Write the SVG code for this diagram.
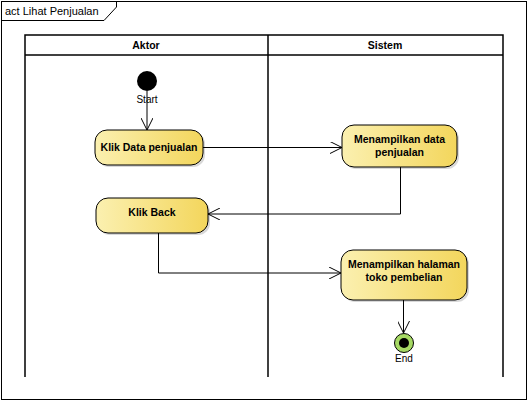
<svg xmlns="http://www.w3.org/2000/svg" width="529" height="402" viewBox="0 0 529 402">
<defs>
<linearGradient id="g" x1="0" y1="0" x2="1" y2="0">
<stop offset="0" stop-color="#fbf0b0"/>
<stop offset="1" stop-color="#f3d65c"/>
</linearGradient>
<marker id="arr" markerWidth="14" markerHeight="12" refX="12" refY="6" orient="auto" markerUnits="userSpaceOnUse">
<path d="M0,0 L12,6 L0,12" fill="none" stroke="#000" stroke-width="1"/>
</marker>
</defs>
<style>
.frame{fill:#fff;stroke:#000;stroke-width:1}
.lane{fill:none;stroke:#000;stroke-width:1.5}
.act{fill:url(#g);stroke:#000;stroke-width:1}
.sh{fill:#c8c8c8;opacity:0.7}
.t{font-family:"Liberation Sans",Arial,sans-serif;font-size:10.5px;font-weight:bold;text-anchor:middle;fill:#000}
.n{font-family:"Liberation Sans",Arial,sans-serif;font-size:11px;fill:#000}
.c{fill:none;stroke:#000;stroke-width:1}
</style>
<rect x="0" y="0" width="529" height="402" fill="#fff"/>
<g id="frame">
<rect class="frame" x="1.5" y="1.5" width="525" height="398"/>
<polyline class="c" points="1.5,20.5 104,20.5 116.5,7 116.5,1.5"/>
<text class="n" x="5" y="15">act Lihat Penjualan</text>
</g>
<g id="lanes">
<polyline class="lane" points="25,377 25,35 503,35 503,377"/>
<line class="lane" x1="268" y1="35" x2="268" y2="377"/>
<line class="lane" x1="25" y1="55" x2="503" y2="55"/>
<text class="t" x="146" y="49">Aktor</text>
<text class="t" x="385" y="49">Sistem</text>
</g>
<g id="start">
<circle cx="147" cy="81" r="10" fill="#000"/>
<text class="n" x="147" y="103" text-anchor="middle" style="font-size:10px">Start</text>
</g>
<g id="klikData">
<rect class="sh" x="97" y="132" width="108" height="35" rx="12"/>
<rect class="act" x="95" y="130" width="108" height="35" rx="12"/>
<text class="t" x="149" y="151">Klik Data penjualan</text>
</g>
<g id="tampilData">
<rect class="sh" x="344" y="127" width="115" height="42" rx="12"/>
<rect class="act" x="342" y="125" width="115" height="42" rx="12"/>
<text class="t" x="399.5" y="143">Menampilkan data</text>
<text class="t" x="399.5" y="156">penjualan</text>
</g>
<g id="klikBack">
<rect class="sh" x="98" y="200" width="112" height="35" rx="12"/>
<rect class="act" x="96" y="198" width="112" height="35" rx="12"/>
<text class="t" x="152" y="216">Klik Back</text>
</g>
<g id="tampilHalaman">
<rect class="sh" x="343" y="252" width="126" height="50" rx="12"/>
<rect class="act" x="341" y="250" width="126" height="50" rx="12"/>
<text class="t" x="404" y="268">Menampilkan halaman</text>
<text class="t" x="404" y="281">toko pembelian</text>
</g>
<g id="end">
<circle cx="404" cy="343" r="9.5" fill="#a6d964" stroke="#000" stroke-width="1"/>
<circle cx="404" cy="343" r="5" fill="#000"/>
<text class="n" x="404" y="362" text-anchor="middle" style="font-size:10px">End</text>
</g>
<g id="connectors">
<line class="c" x1="147" y1="91" x2="147" y2="130" marker-end="url(#arr)"/>
<line class="c" x1="203" y1="147.5" x2="342" y2="147.5" marker-end="url(#arr)"/>
<polyline class="c" points="400.5,167 400.5,214 208,214" marker-end="url(#arr)"/>
<polyline class="c" points="158.5,233 158.5,273 341,273" marker-end="url(#arr)"/>
<line class="c" x1="403.5" y1="300" x2="403.5" y2="333" marker-end="url(#arr)"/>
</g>
</svg>
